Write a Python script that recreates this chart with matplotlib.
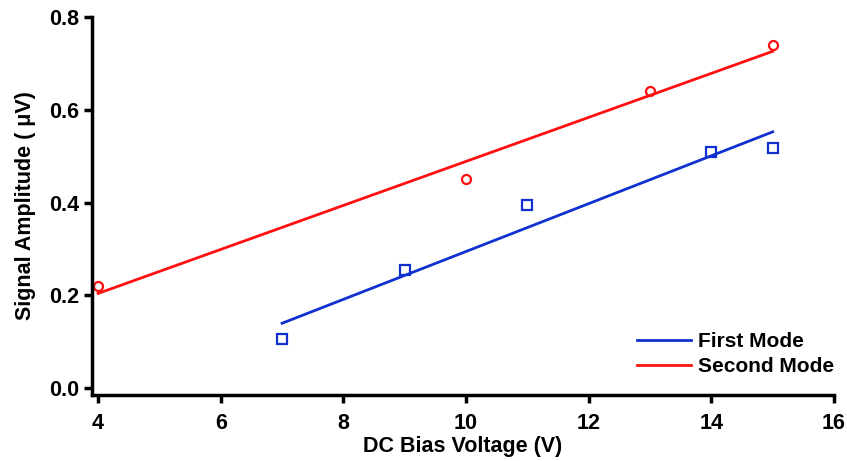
import numpy as np
import matplotlib
matplotlib.use("Agg")
import matplotlib.pyplot as plt

# datos
voltajeFirst = [7, 9, 11, 14, 15]
amplitudFirst = [0.105, 0.255, 0.395, 0.51, 0.517]
voltajeSecond = [4, 10, 13, 15]
amplitudSecond = [0.22, 0.45, 0.64, 0.74]

plt.rcParams["font.family"] = ["Liberation Sans", "DejaVu Sans"]
plt.rcParams["font.weight"] = "bold"

fig = plt.figure(figsize=(8.47, 4.61), dpi=100)
ax = fig.add_axes([0.1086, 0.1432, 0.8761, 0.8198])

azul = "#1030d0"
rojo = "#ff1010"

# ajuste lineal de cada modo
for xs, ys, color, marker, nombre in [(voltajeFirst, amplitudFirst, azul, "s", "First Mode"),
                                       (voltajeSecond, amplitudSecond, rojo, "o", "Second Mode")]:
    m, b = np.polyfit(xs, ys, 1)
    xfit = np.array([min(xs), max(xs)])
    ax.plot(xfit, m * xfit + b, color=color, lw=2, label=nombre)
    ax.plot(xs, ys, marker, mfc="none", mec=color, mew=1.6, ms=6.5, ls="none")

ax.set_xlim(3.9, 16)
ax.set_ylim(-0.015, 0.8)
ax.set_xticks([4, 6, 8, 10, 12, 14, 16])
ax.set_yticks([0.0, 0.2, 0.4, 0.6, 0.8])
ax.yaxis.set_major_formatter(matplotlib.ticker.FormatStrFormatter("%.1f"))

for lado in ["top", "right"]:
    ax.spines[lado].set_visible(False)
for lado in ["left", "bottom"]:
    ax.spines[lado].set_linewidth(2.5)
ax.tick_params(width=2.5, length=6, labelsize=15.5)
ax.tick_params(axis="x", pad=7)
ax.tick_params(axis="y", pad=3)
for t in ax.get_xticklabels() + ax.get_yticklabels():
    t.set_fontweight("bold")

ax.set_xlabel("DC Bias Voltage (V)", fontsize=15.5, fontweight="bold", labelpad=1.5)
ax.set_ylabel("Signal Amplitude ( \u03bcV)", fontsize=15.5, fontweight="bold", labelpad=9.5)

ax.legend(loc="lower right", frameon=False, fontsize=15, handlelength=2.6,
          handletextpad=0.3, labelspacing=0.3, bbox_to_anchor=(1.025, 0.0))

fig.savefig("out.png", dpi=100)
